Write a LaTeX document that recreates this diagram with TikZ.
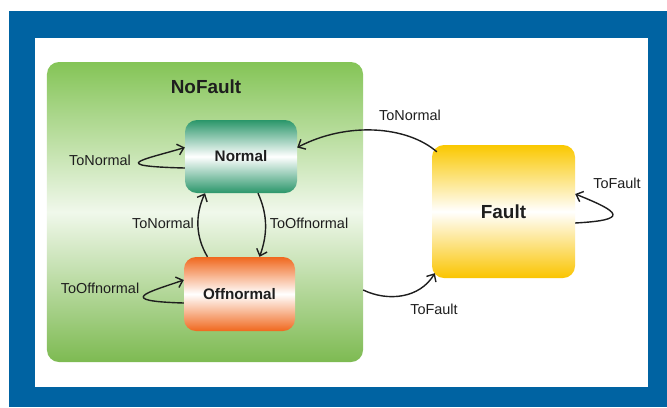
\documentclass[tikz,border=0pt]{standalone}
\usepackage{fontspec}
\setmainfont{Liberation Sans}
\usepackage{xcolor}
\usetikzlibrary{arrows.meta, positioning}

\definecolor{frameblue}{RGB}{0,99,162}
\definecolor{nofaultgreen}{RGB}{132,196,86}
\definecolor{normalteal}{RGB}{42,150,106}
\definecolor{offorange}{RGB}{240,104,30}
\definecolor{faultyellow}{RGB}{250,200,0}
\definecolor{labelgray}{RGB}{30,30,30}

\begin{document}
\begin{tikzpicture}[x=1bp, y=-1bp,
  container/.style={rounded corners=12bp, minimum width=316bp, minimum height=300bp,
    top color=nofaultgreen, bottom color=nofaultgreen!95!black, middle color=nofaultgreen!12},
  state/.style={rounded corners=12bp, text=labelgray, font=\fontsize{15.3}{18}\selectfont\bfseries},
  title/.style={text=labelgray, font=\fontsize{19}{22}\selectfont\bfseries},
  trans/.style={text=labelgray, font=\fontsize{14.5}{17}\selectfont, inner sep=1bp},
  arr/.style={line width=1.4bp, draw=labelgray, -{Straight Barb[length=6bp,width=11bp]}}
]
  \useasboundingbox (0,0) rectangle (667,407);

  % frame
  \fill[frameblue] (9,11) rectangle (667,407);
  \fill[white] (35,38) rectangle (648,387);

  % NoFault super state
  \node[container] (nofault) at (205,212) {};
  \node[title] (nofaulttitle) at (206,87) {NoFault};

  % states
  \node[state, top color=normalteal, bottom color=normalteal, middle color=white,
    minimum width=112bp, minimum height=73bp] (normal) at (241,156.5) {Normal};
  \node[state, top color=offorange, bottom color=offorange, middle color=white,
    minimum width=111bp, minimum height=74bp] (offnormal) at (239.5,294) {Offnormal};
  \node[state, top color=faultyellow, bottom color=faultyellow!95!orange, middle color=white,
    minimum width=143bp, minimum height=133bp, font=\fontsize{19}{22}\selectfont\bfseries]
    (fault) at (503.5,211.5) {Fault};

  % transition labels
  \node[trans] (tnself) at (100,160) {ToNormal};
  \node[trans] (toself) at (100,288) {ToOffnormal};
  \node[trans] (tnup) at (163,223) {ToNormal};
  \node[trans] (todown) at (309,223) {ToOffnormal};
  \node[trans] (tnback) at (410,115) {ToNormal};
  \node[trans] (tfin) at (434,309) {ToFault};
  \node[trans] (tfself) at (617,183) {ToFault};

  % self loops
  \draw[arr] ([yshift=-11.5bp]normal.west) .. controls +(-80,-2) and +(-40,12) .. ([yshift=9bp]normal.west);
  \draw[arr] ([yshift=-9bp]offnormal.west) .. controls +(-70,-2) and +(-35,12) .. ([yshift=14bp]offnormal.west);
  \draw[arr] ([yshift=-11.5bp]fault.east) .. controls +(55,-3) and +(45,18) .. ([yshift=17.5bp]fault.east);

  % between Normal and Offnormal
  \draw[arr] ([xshift=-32bp]offnormal.north) .. controls +(-12,-20) and +(-10,22) .. ([xshift=-36bp]normal.south);
  \draw[arr] ([xshift=17bp]normal.south) .. controls +(10,22) and +(8,-22) .. ([xshift=20bp]offnormal.north);

  % to and from Fault
  \draw[arr] ([xshift=5bp,yshift=-7bp]fault.north west) .. controls +(-30,-26) and +(50,-26) .. ([yshift=9bp]normal.east);
  \draw[arr] ([yshift=-78bp]nofault.east) .. controls +(25,12) and +(-15,25) .. ([xshift=3bp,yshift=5bp]fault.south west);

\end{tikzpicture}
\end{document}
